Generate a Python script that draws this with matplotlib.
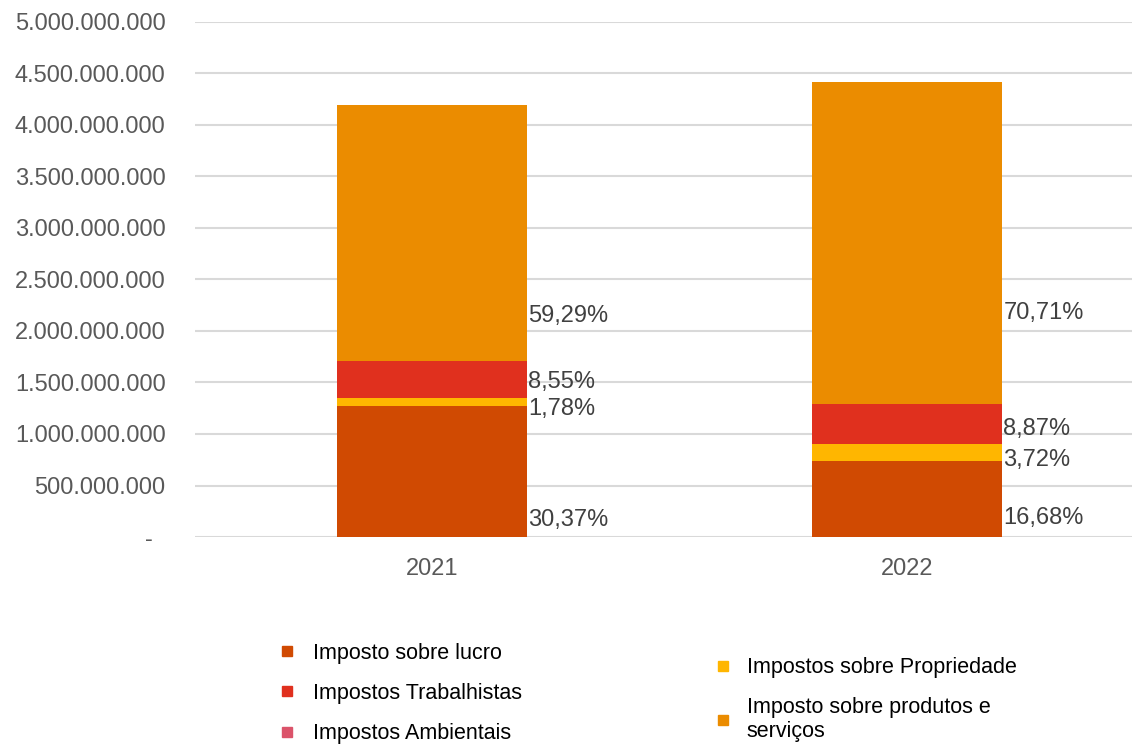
import numpy as np
import matplotlib
matplotlib.use('Agg')
import matplotlib.pyplot as plt
from matplotlib.lines import Line2D
from matplotlib.ticker import FuncFormatter

plt.rcParams['font.family'] = ['Liberation Sans', 'DejaVu Sans']

anos = ['2021', '2022']
series = ['Imposto sobre lucro', 'Impostos sobre Propriedade', 'Impostos Trabalhistas',
          'Impostos Ambientais', 'Imposto sobre produtos e\nserviços']
lucro = [1.273e9, 0.737e9]
propriedade = [0.0746e9, 0.164e9]
trabalhistas = [0.358e9, 0.392e9]
ambientais = [0.0004e9, 0.0009e9]
produtos = [2.484e9, 3.125e9]
rotulos = [['30,37%', '16,68%'], ['1,78%', '3,72%'], ['8,55%', '8,87%'],
           None, ['59,29%', '70,71%']]
# posicao vertical dos rotulos (como no grafico original)
rotulo_y = [[0.165e9, 0.184e9], [1.243e9, 0.748e9], [1.505e9, 1.049e9],
            None, [2.146e9, 2.175e9]]
cores = ['#D04A02', '#FFB600', '#E0301E', '#DB536A', '#EB8C00']

fig = plt.figure(figsize=(11.32, 7.48), dpi=100)
ax = fig.add_axes([0.172, 0.282, 0.828, 0.689])

x = np.arange(len(anos))
largura = 0.4
base = np.zeros(len(anos))
handles = []
for i, vals in enumerate([lucro, propriedade, trabalhistas, ambientais, produtos]):
    ax.bar(x, vals, largura, bottom=base, color=cores[i], zorder=3)
    base += np.array(vals)
    handles.append(Line2D([], [], marker='s', color=cores[i], linestyle='none', markersize=6.5))
    if rotulos[i] is not None:
        for j in range(len(anos)):
            ax.text(x[j] + largura / 2 + 0.003, rotulo_y[i][j], rotulos[i][j],
                    ha='left', va='center', fontsize=17, color='#404040')

ax.set_xlim(-0.499, 1.474)
ax.set_ylim(0, 5e9)
ax.set_yticks(np.arange(0, 5.01e9, 5e8))
ax.yaxis.set_major_formatter(FuncFormatter(
    lambda v, p: '-  ' if v == 0 else f'{int(v):,}'.replace(',', '.')))
ax.set_xticks(x)
ax.set_xticklabels(anos)
ax.tick_params(axis='both', length=0, labelsize=17, colors='#595959')
ax.tick_params(axis='y', pad=21)
ax.tick_params(axis='x', pad=15)
ax.grid(axis='y', color='#D9D9D9', linewidth=1.5, zorder=0)
for s in ax.spines.values():
    s.set_visible(False)

leg1 = fig.legend([handles[0], handles[2], handles[3]], [series[0], series[2], series[3]],
                  loc='upper left', bbox_to_anchor=(0.248, 0.141), frameon=False,
                  fontsize=15.5, handlelength=0.6, handletextpad=0.9, labelspacing=0.9,
                  borderaxespad=0, borderpad=0)
leg2 = fig.legend([handles[1], handles[4]], [series[1], series[4]],
                  loc='upper left', bbox_to_anchor=(0.633, 0.121), frameon=False,
                  fontsize=15.5, handlelength=0.6, handletextpad=0.8, labelspacing=0.85,
                  borderaxespad=0, borderpad=0)
for lg in (leg1, leg2):
    for t in lg.get_texts():
        t.set_color('#000000')

fig.savefig('out.png', dpi=100)
